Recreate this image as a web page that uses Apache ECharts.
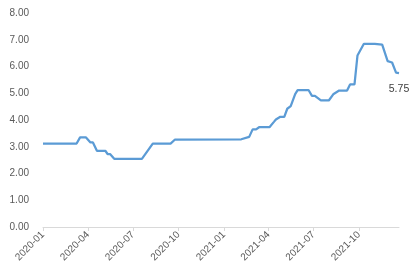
<!DOCTYPE html>
<html>
<head>
<meta charset="utf-8">
<script src="https://cdn.jsdelivr.net/npm/echarts@6/dist/echarts.min.js"></script>
<style>
html,body{margin:0;padding:0;background:#fff;}
#chart{width:415px;height:270px;}
</style>
</head>
<body>
<div id="chart"></div>
<script>
// Data
var dates = [
  '2020-01-01','2020-03-09','2020-03-16','2020-03-28','2020-04-06','2020-04-11',
  '2020-04-19','2020-05-06','2020-05-11','2020-05-16','2020-05-24','2020-07-19',
  '2020-08-10','2020-09-15','2020-09-24','2021-02-05','2021-02-21','2021-02-28',
  '2021-03-07','2021-03-13','2021-04-03','2021-04-12','2021-04-16','2021-04-25',
  '2021-05-03','2021-05-09','2021-05-16','2021-05-25','2021-05-30','2021-06-21',
  '2021-06-28','2021-07-04','2021-07-16','2021-08-01','2021-08-10','2021-08-13',
  '2021-08-22','2021-09-07','2021-09-13','2021-09-22','2021-09-28','2021-10-11',
  '2021-11-02','2021-11-17','2021-11-28','2021-12-07','2021-12-15','2021-12-21'
];
var values = [
  3.12,3.12,3.35,3.35,3.16,3.16,
  2.85,2.85,2.72,2.72,2.55,2.55,
  3.12,3.12,3.27,3.28,3.37,3.65,
  3.65,3.73,3.73,3.93,4.02,4.12,
  4.12,4.42,4.52,4.97,5.12,5.12,
  4.90,4.90,4.73,4.73,4.96,5.00,
  5.10,5.10,5.33,5.33,6.41,6.85,
  6.85,6.82,6.20,6.15,5.77,5.75
];
var xTickDates = ['2020-01-01','2020-04-01','2020-07-01','2020-10-01','2021-01-01','2021-04-01','2021-07-01','2021-10-01'];
var yMin = 0, yMax = 8, yStep = 1;

function ts(s){ var p = s.split('-'); return Date.UTC(+p[0], +p[1]-1, +p[2]); }
function fmtMonth(v){ var d = new Date(v); var m = d.getUTCMonth()+1; return d.getUTCFullYear() + '-' + (m<10?'0':'') + m; }

var seriesData = dates.map(function(d,i){ return [ts(d), values[i]]; });
var tickVals = xTickDates.map(ts);
var lastIdx = values.length - 1;
seriesData[lastIdx] = {
  value: seriesData[lastIdx],
  label: {show: true, position: 'bottom', distance: 10, formatter: function(p){ return p.value[1].toFixed(2); },
          color: '#404040', fontSize: 10.5, fontFamily: 'Liberation Sans'}
};

var chart = echarts.init(document.getElementById('chart'), null, {renderer: 'canvas'});
chart.setOption({
  animation: false,
  backgroundColor: '#ffffff',
  textStyle: {fontFamily: 'Liberation Sans'},
  grid: {left: 43, right: 16, top: 13, bottom: 43, containLabel: false, outerBoundsMode: 'none'},
  xAxis: {
    type: 'value',
    min: ts(dates[0]),
    max: ts(dates[lastIdx]),
    scale: true,
    splitLine: {show: false},
    axisLine: {show: true, lineStyle: {color: '#d9d9d9', width: 1}},
    axisTick: {show: true, length: 4, lineStyle: {color: '#d9d9d9'}, customValues: tickVals},
    axisLabel: {
      customValues: tickVals,
      rotate: 45,
      margin: 6,
      color: '#595959',
      fontSize: 10,
      fontFamily: 'Liberation Sans',
      formatter: function(v){ return fmtMonth(v); }
    }
  },
  yAxis: {
    type: 'value',
    min: yMin, max: yMax, interval: yStep,
    splitLine: {show: false},
    axisLine: {show: false},
    axisTick: {show: false},
    axisLabel: {
      margin: 14,
      color: '#595959',
      fontSize: 10,
      fontFamily: 'Liberation Sans',
      formatter: function(v){ return v.toFixed(2); }
    }
  },
  series: [{
    type: 'line',
    data: seriesData,
    showSymbol: true,
    symbol: 'circle',
    symbolSize: 0,
    lineStyle: {color: '#5b9bd5', width: 2.25},
    itemStyle: {color: '#5b9bd5'}
  }]
});
</script>
</body>
</html>
